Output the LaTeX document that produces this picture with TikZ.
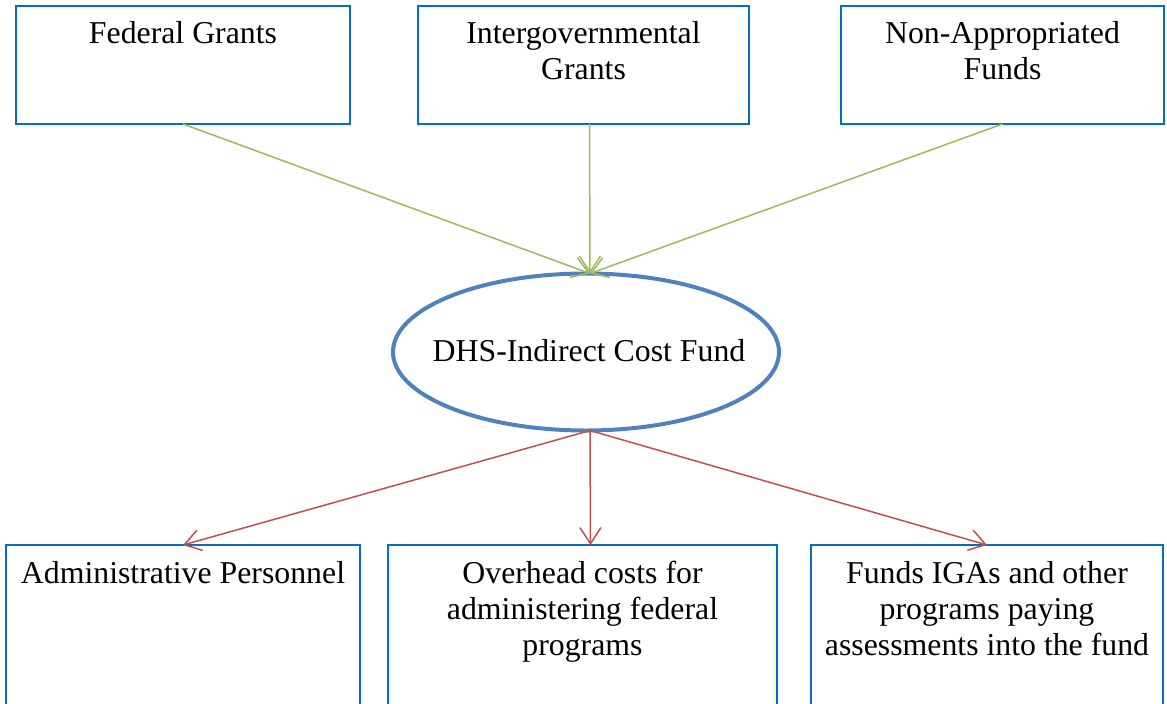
\documentclass[tikz,border=0pt]{standalone}
\usepackage{fontspec}
\setmainfont{Liberation Serif}
\usetikzlibrary{shapes.geometric,arrows.meta}
\definecolor{boxblue}{HTML}{0070C0}
\definecolor{ellblue}{HTML}{4F81BD}
\definecolor{arrgreen}{HTML}{9BBB59}
\definecolor{arrred}{HTML}{C0504D}
\begin{document}
\begin{tikzpicture}[x=0.5pt,y=-0.5pt,
  every node/.style={font=\fontsize{15.9}{18}\selectfont},
  fbox/.style={draw=boxblue,line width=1pt,rectangle,inner sep=0pt,outer sep=0pt,anchor=north west},
  lbl/.style={anchor=north,align=center,inner sep=0pt},
  fund/.style={ellipse,draw=ellblue,line width=2pt,inner sep=0pt,outer sep=0pt,minimum width=193pt,minimum height=78.5pt},
  garrow/.style={draw=arrgreen,line width=0.75pt,-{Straight Barb[length=8pt,width=10.5pt]}},
  rarrow/.style={draw=arrred,line width=0.75pt,-{Straight Barb[length=8pt,width=10.5pt]}}]
\useasboundingbox (0,0) rectangle (1167,703);
\clip (0,0) rectangle (1167,703);
% top boxes
\node[fbox,minimum width=167pt,minimum height=59pt] (fg) at (16,6) {};
\node[fbox,minimum width=165.5pt,minimum height=59pt] (ig) at (418,6) {};
\node[fbox,minimum width=161.5pt,minimum height=59pt] (na) at (841,6) {};
\node[lbl] (fgt) at ([yshift=-7.5pt]fg.north) {Federal Grants};
\node[lbl] (igt) at ([yshift=-7.5pt]ig.north) {Intergovernmental\\Grants};
\node[lbl] (nat) at ([yshift=-7.5pt]na.north) {Non-Appropriated\\Funds};
% ellipse
\node[fund] (dhs) at (586,352) {};
\node[inner sep=0pt] (dhst) at (589,351) {DHS-Indirect Cost Fund};
% bottom boxes
\node[fbox,minimum width=177pt,minimum height=87.5pt] (ap) at (6,545) {};
\node[fbox,minimum width=194.5pt,minimum height=87.5pt] (oc) at (388,545) {};
\node[fbox,minimum width=176pt,minimum height=87.5pt] (fi) at (811,545) {};
\node[lbl] (apt) at ([yshift=-8pt]ap.north) {Administrative Personnel};
\node[lbl] (oct) at ([yshift=-8pt]oc.north) {Overhead costs for\\administering federal\\programs};
\node[lbl] (fit) at ([yshift=-8pt]fi.north) {Funds IGAs and other\\programs paying\\assessments into the fund};
% connectors
\draw[garrow] (fg.south) -- ([xshift=2pt]dhs.north);
\draw[garrow] ([xshift=3pt]ig.south) -- ([xshift=2pt]dhs.north);
\draw[garrow] (na.south) -- ([xshift=2pt]dhs.north);
\draw[rarrow] ([xshift=2pt]dhs.south) -- (ap.north);
\draw[rarrow] ([xshift=2pt]dhs.south) -- ([xshift=4pt]oc.north);
\draw[rarrow] ([xshift=2pt]dhs.south) -- (fi.north);
\end{tikzpicture}
\end{document}
